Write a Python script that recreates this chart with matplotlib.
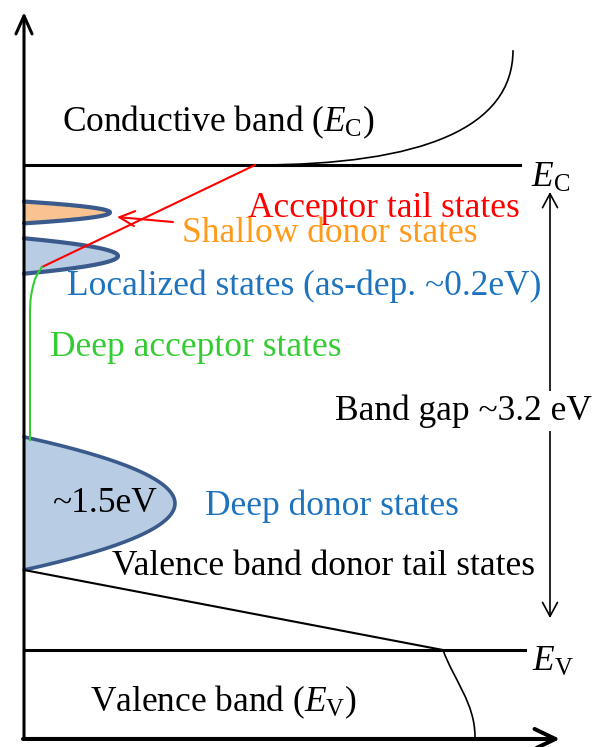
import numpy as np
import matplotlib.pyplot as plt
from matplotlib.path import Path
from matplotlib.patches import PathPatch

plt.rcParams['font.family'] = ['Liberation Serif', 'DejaVu Serif']
plt.rcParams['mathtext.fontset'] = 'custom'
plt.rcParams['mathtext.rm'] = 'Liberation Serif'
plt.rcParams['mathtext.it'] = 'Liberation Serif:italic'

# energies in eV (valence band edge = 0), x = density of states (arb. units)
E_V = 0.0
E_C = 3.2

# sub-gap state lobes: centre energy, half width, peak DOS
shallow_donor = (2.887, 0.072, 0.86)
localized = (2.600, 0.117, 0.94)
deep_donor = (0.967, 0.439, 1.51)

# conduction / valence band DOS drawn as smooth curves (bezier control points)
cb_dos_x = [2.31, 4.0, 4.89, 4.89]
cb_dos_E = [3.2, 3.2, 3.45, 3.958]
vb_dos_x = [4.19, 4.30, 4.51, 4.51]
vb_dos_E = [0.0, -0.20, -0.35, -0.574]

# acceptor tail (straight line) and valence band donor tail
acc_tail_x = [2.31, 0.18]
acc_tail_E = [3.2, 2.527]
vb_tail_x = [0.0, 4.19]
vb_tail_E = [0.528, 0.0]

# deep acceptor states curve
deep_acc_x = [0.18, 0.14, 0.11, 0.09, 0.075, 0.065, 0.06, 0.06]
deep_acc_E = [2.527, 2.487, 2.448, 2.401, 2.355, 2.309, 2.243, 1.386]

EDGE = '#3a5a8c'
BLUE_FILL = '#b8cce4'
ORANGE_FILL = '#f8c291'
FS = 25.5

fig = plt.figure(figsize=(5.96, 7.47), dpi=100)
ax = fig.add_axes([0, 0, 1, 1])
ax.set_xlim(-0.24, 5.72)
ax.set_ylim(-0.640, 4.289)
ax.axis('off')


def lobe(params, fill, lw=2.6):
    c, w, h = params
    E = np.linspace(c - w, c + w, 200)
    x = h * (1 - ((E - c) / w) ** 2)
    ax.fill_betweenx(E, 0, x, color=fill, lw=0, zorder=2)
    ax.plot(x, E, color=EDGE, lw=lw, zorder=3, solid_capstyle='round')


def smooth_curve(xs, ys, lw):
    codes = [Path.MOVETO, Path.CURVE4, Path.CURVE4, Path.CURVE4]
    path = Path(list(zip(xs, ys)), codes)
    ax.add_patch(PathPatch(path, facecolor='none', edgecolor='k', lw=lw, zorder=4))


lobe(deep_donor, BLUE_FILL)
lobe(localized, BLUE_FILL, lw=3.0)
lobe(shallow_donor, ORANGE_FILL, lw=3.0)

# band edges
ax.plot([0, 4.96], [E_C, E_C], color='k', lw=2.2, zorder=4)
ax.plot([0, 5.01], [E_V, E_V], color='k', lw=2.2, zorder=4)

# band DOS curves
smooth_curve(cb_dos_x, cb_dos_E, 1.2)
smooth_curve(vb_dos_x, vb_dos_E, 1.2)

# tails
ax.plot(acc_tail_x, acc_tail_E, color='red', lw=1.5, zorder=5)
ax.plot(deep_acc_x, deep_acc_E, color='#33cc33', lw=1.5, zorder=5)
ax.plot(vb_tail_x, vb_tail_E, color='k', lw=1.5, zorder=4)

# axes arrows
ax.annotate('', xy=(0, 4.209), xytext=(0, -0.59),
            arrowprops=dict(arrowstyle='->,head_length=1.3,head_width=0.58',
                            lw=2.2, color='k', shrinkA=0, shrinkB=0, mutation_scale=10),
            zorder=6)
ax.annotate('', xy=(5.36, -0.587), xytext=(-0.01, -0.587),
            arrowprops=dict(arrowstyle='->,head_length=1.5,head_width=0.72',
                            lw=2.9, color='k', shrinkA=0, shrinkB=0, mutation_scale=10),
            zorder=6)

# band gap arrow
ax.annotate('', xy=(5.26, 0.211), xytext=(5.26, 3.022),
            arrowprops=dict(arrowstyle='<->,head_length=1.0,head_width=0.54',
                            lw=1.2, color='k', shrinkA=0, shrinkB=0, mutation_scale=10),
            zorder=4)

# arrow pointing at the shallow donor lobe
ax.annotate('', xy=(0.93, 2.857), xytext=(1.49, 2.824),
            arrowprops=dict(arrowstyle='->,head_length=1.1,head_width=0.54',
                            lw=1.5, color='red', shrinkA=0, shrinkB=0, mutation_scale=10),
            zorder=5)

# labels
txt = dict(fontsize=FS, va='center', ha='left', zorder=7)
ax.text(0.38, 3.484, r'Conductive band ($E_{\mathrm{C}}$)', color='k', **txt)
ax.text(5.07, 3.114, r'$E_{\mathrm{C}}$', color='k', **txt)
ax.text(2.24, 2.916, 'Acceptor tail states', color='red', **txt)
ax.text(1.58, 2.751, 'Shallow donor states', color='#ff9a1a', **txt)
ax.text(0.43, 2.402, 'Localized states (as-dep. ~0.2eV)', color='#1e73be', **txt)
ax.text(0.26, 1.999, 'Deep acceptor states', color='#33cc33', **txt)
ax.text(3.11, 1.577, 'Band gap ~3.2 eV', color='k',
        bbox=dict(facecolor='white', edgecolor='none', pad=2), **txt)
ax.text(0.28, 0.970, '~1.5eV', color='k', **txt)
ax.text(1.81, 0.950, 'Deep donor states', color='#1e73be', **txt)
ax.text(0.88, 0.554, 'Valence band donor tail states', color='k', **txt)
ax.text(5.08, -0.079, r'$E_{\mathrm{V}}$', color='k', **txt)
ax.text(0.66, -0.343, r'Valence band ($E_{\mathrm{V}}$)', color='k', **txt)

fig.savefig('out.png', dpi=100)
